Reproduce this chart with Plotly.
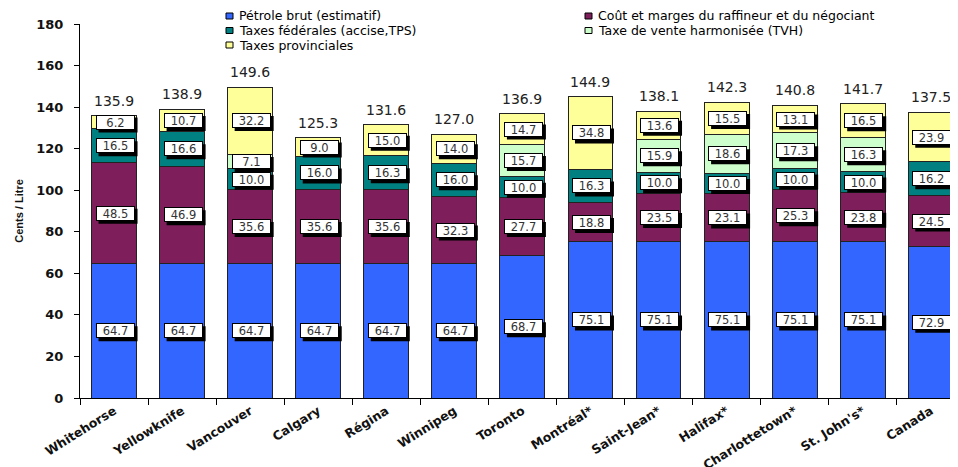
import plotly.graph_objects as go

cities = ["Whitehorse", "Yellowknife", "Vancouver", "Calgary", "Régina", "Winnipeg",
          "Toronto", "Montréal*", "Saint-Jean*", "Halifax*", "Charlottetown*", "St. John's*", "Canada"]

crude = [64.7, 64.7, 64.7, 64.7, 64.7, 64.7, 68.7, 75.1, 75.1, 75.1, 75.1, 75.1, 72.9]
refining = [48.5, 46.9, 35.6, 35.6, 35.6, 32.3, 27.7, 18.8, 23.5, 23.1, 25.3, 23.8, 24.5]
federal = [16.5, 16.6, 10.0, 16.0, 16.3, 16.0, 10.0, 16.3, 10.0, 10.0, 10.0, 10.0, 16.2]
hst = [0, 0, 7.1, 0, 0, 0, 15.7, 0, 15.9, 18.6, 17.3, 16.3, 0]
provincial = [6.2, 10.7, 32.2, 9.0, 15.0, 14.0, 14.7, 34.8, 13.6, 15.5, 13.1, 16.5, 23.9]
totals = [135.9, 138.9, 149.6, 125.3, 131.6, 127.0, 136.9, 144.9, 138.1, 142.3, 140.8, 141.7, 137.5]

series_names = ["Pétrole brut (estimatif)", "Coût et marges du raffineur et du négociant",
                "Taxes fédérales (accise,TPS)", "Taxe de vente harmonisée (TVH)",
                "Taxes provinciales"]
series_values = [crude, refining, federal, hst, provincial]
colors = ["#3366FF", "#7E1F5C", "#008080", "#CCFFCC", "#FFFF99"]

FONT = "DejaVu Sans"

fig = go.Figure()
for name, vals, col in zip(series_names, series_values, colors):
    fig.add_trace(go.Bar(
        x=cities, y=vals, name=name, marker=dict(color=col, line=dict(color="#222222", width=1)),
        width=0.66, showlegend=False, hoverinfo="skip"))

annotations = []
shapes = []
BW, BH = 39, 15  # label box size in px
for i, c in enumerate(cities):
    base = 0.0
    for vals in series_values:
        v = vals[i]
        if v > 0:
            mid = base + v / 2
            # drop shadow
            shapes.append(dict(type="rect", xref="x", yref="y", xsizemode="pixel", ysizemode="pixel",
                               xanchor=i, yanchor=mid,
                               x0=-BW / 2 + 1 + 3, x1=BW / 2 + 1 + 3, y0=-BH / 2 - 3, y1=BH / 2 - 3,
                               fillcolor="black", line=dict(width=0), layer="above"))
            annotations.append(dict(x=c, y=mid, xref="x", yref="y", text=f"{v:.1f}", showarrow=False,
                                    font=dict(family=FONT, size=11.5, color="#333333"),
                                    bgcolor="white", bordercolor="black", borderwidth=1, borderpad=1,
                                    width=BW - 4, height=BH - 4, xshift=1))
        base += v
    annotations.append(dict(x=c, y=totals[i], xref="x", yref="y", text=f"{totals[i]:.1f}",
                            showarrow=False, yanchor="bottom", yshift=5,
                            font=dict(family=FONT, size=14, color="#222222")))

# manual compact two-column legend (positions in window pixels; page body has an 8px offset)
L, W, T, H = 80, 878, 24, 374
def px2paper(px, py):
    return (px - L) / W, (T + H - py) / H

legend_pos = [(226, 16), (585, 16), (226, 30.5), (585, 30.5), (226, 45)]
for name, col, (px, py) in zip(series_names, colors, legend_pos):
    x0, y0 = px2paper(px, py + 3)
    x1, y1 = px2paper(px + 7, py - 3)
    shapes.append(dict(type="rect", xref="paper", yref="paper", x0=x0, x1=x1, y0=y0, y1=y1,
                       fillcolor=col, line=dict(color="black", width=1)))
    tx, ty = px2paper(px + 12, py)
    annotations.append(dict(x=tx, y=ty, xref="paper", yref="paper", text=name, showarrow=False,
                            xanchor="left", yanchor="middle", borderpad=0,
                            font=dict(family=FONT, size=12.5, color="black")))

fig.update_layout(
    width=950, height=459,
    margin=dict(l=72, r=0, t=16, b=69),
    plot_bgcolor="white", paper_bgcolor="white",
    barmode="stack",
    annotations=annotations,
    shapes=shapes,
    xaxis=dict(range=[-0.5, 12.4], tickson="boundaries", ticks="outside", ticklen=6,
               tickcolor="black", showline=True, linecolor="black", linewidth=1,
               tickangle=-32, automargin=False,
               tickfont=dict(family=FONT, size=12.5, color="#111111", weight="bold"),
               showgrid=False, fixedrange=True),
    yaxis=dict(range=[0, 180], tickmode="linear", tick0=0, dtick=20, ticks="outside", ticklen=5,
               tickcolor="black", showline=True, linecolor="black", linewidth=1,
               ticklabelstandoff=8, automargin=False,
               tickfont=dict(family=FONT, size=13, color="#111111", weight="bold"),
               showgrid=False, zeroline=False,
               title=dict(text="Cents / Litre", standoff=10,
                          font=dict(family="Liberation Sans", size=11, color="#111111", weight="bold"))),
)

fig.write_html("out.html")
